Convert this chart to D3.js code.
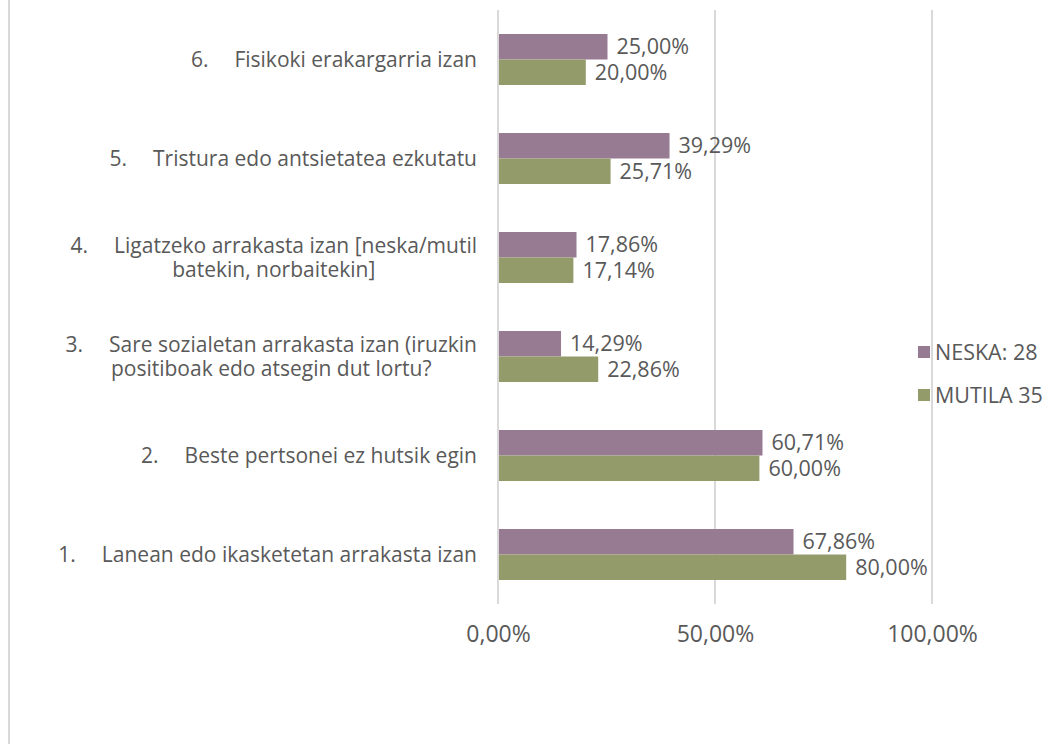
<!DOCTYPE html>
<html><head><meta charset="utf-8">
<script src="https://cdn.jsdelivr.net/npm/d3@7"></script>
<style>
html,body{margin:0;padding:0;background:#fff;}
text{font-family:"Open Sans",sans-serif;fill:#595959;}
</style></head>
<body>
<svg id="chart" width="1056" height="744"></svg>
<script>
// Data (top to bottom as drawn)
const categoryNumbers = ["6.", "5.", "4.", "3.", "2.", "1."];
const categoryLines = [
  ["Fisikoki erakargarria izan"],
  ["Tristura edo antsietatea ezkutatu"],
  ["Ligatzeko arrakasta izan [neska/mutil", "batekin, norbaitekin]"],
  ["Sare sozialetan arrakasta izan (iruzkin", "positiboak edo atsegin dut lortu?"],
  ["Beste pertsonei ez hutsik egin"],
  ["Lanean edo ikasketetan arrakasta izan"]
];
const seriesNames = ["NESKA: 28", "MUTILA 35"];
const neskaValues = [25.00, 39.29, 17.86, 14.29, 60.71, 67.86];
const mutilaValues = [20.00, 25.71, 17.14, 22.86, 60.00, 80.00];
const xTicks = [0, 50, 100];

const colors = ["#967b93", "#939b6a"];
const svg = d3.select("#chart");
const fmt = v => v.toFixed(2).replace(".", ",") + "%";

// frame line
svg.append("line").attr("x1", 9).attr("x2", 9).attr("y1", 0).attr("y2", 744)
  .attr("stroke", "#d9d9d9").attr("stroke-width", 2);

const x = d3.scaleLinear().domain([0, 100]).range([498, 932]);
const y0 = d3.scaleBand().domain(d3.range(6)).range([10, 604]).paddingInner(0.485).paddingOuter(0.2425);
const y1 = d3.scaleBand().domain([0, 1]).range([0, y0.bandwidth()]);

// gridlines
svg.append("g").selectAll("line").data(xTicks).join("line")
  .attr("x1", d => x(d)).attr("x2", d => x(d))
  .attr("y1", 10).attr("y2", 604)
  .attr("stroke", "#d9d9d9").attr("stroke-width", 2);

// x axis labels
const xAxis = d3.axisBottom(x).tickValues(xTicks).tickSize(0).tickPadding(0)
  .tickFormat(d => fmt(d));
const gx = svg.append("g").attr("transform", "translate(0,604)").call(xAxis);
gx.select(".domain").remove();
gx.selectAll("text").attr("y", 30).attr("dy", "0.35em")
  .style("font-size", "23px").style("font-family", "'Open Sans',sans-serif").attr("fill", "#595959");

const series = [neskaValues, mutilaValues];
series.forEach((vals, si) => {
  const g = svg.append("g");
  g.selectAll("rect").data(vals).join("rect")
    .attr("x", x(0) + 1)
    .attr("y", (d, i) => y0(i) + y1(si))
    .attr("width", d => x(d) - x(0))
    .attr("height", y1.bandwidth())
    .attr("fill", colors[si]);
  g.selectAll("text").data(vals).join("text")
    .attr("x", d => x(d) + 10)
    .attr("y", (d, i) => y0(i) + y1(si) + y1.bandwidth() / 2)
    .attr("dy", "0.35em")
    .style("font-size", "21.5px")
    .text(d => fmt(d));
});

// category labels
const labelRight = 477;
const numGap = 26;
categoryLines.forEach((lines, i) => {
  const cy = y0(i) + y0.bandwidth() / 2;
  const lh = 24;
  const startY = cy - (lines.length - 1) * lh / 2;
  const g = svg.append("g").style("font-size", "21px");
  const numT = g.append("text").attr("y", startY).attr("dy", "0.35em").text(categoryNumbers[i]);
  const firstT = g.append("text").attr("y", startY).attr("dy", "0.35em").text(lines[0]);
  const numW = numT.node().getComputedTextLength();
  const firstW = firstT.node().getComputedTextLength();
  const lineW = numW + numGap + firstW;
  const left = labelRight - lineW;
  numT.attr("x", left);
  firstT.attr("x", labelRight).attr("text-anchor", "end");
  const cx = labelRight - lineW / 2;
  lines.slice(1).forEach((ln, li) => {
    g.append("text").attr("x", cx).attr("y", startY + (li + 1) * lh).attr("dy", "0.35em")
      .attr("text-anchor", "middle").text(ln);
  });
});

// legend
const lg = svg.append("g");
seriesNames.forEach((n, i) => {
  const ly = 352 + i * 43;
  lg.append("rect").attr("x", 918).attr("y", ly - 6).attr("width", 12).attr("height", 12).attr("fill", colors[i]);
  lg.append("text").attr("x", 935).attr("y", ly).attr("dy", "0.35em").style("font-size", "21.5px").text(n);
});
</script>
</body></html>
